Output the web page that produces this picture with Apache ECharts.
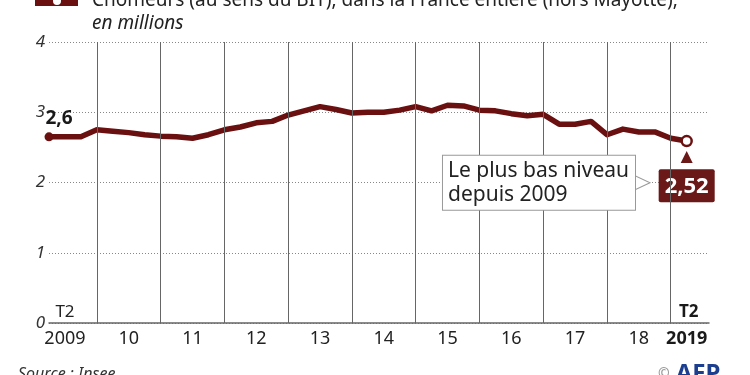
<!DOCTYPE html>
<html><head><meta charset="utf-8">
<script src="https://cdn.jsdelivr.net/npm/echarts@6/dist/echarts.min.js"></script>
<style>html,body{margin:0;padding:0;background:#fff}#c{width:750px;height:375px}</style>
</head><body><div id="c"></div>
<script>
// ---- data ----
const quarters = [];
for (let k = 0; k < 41; k++) {
  const q = (1 + k) % 4 + 1;
  const y = 2009 + Math.floor((1 + k) / 4);
  quarters.push(y + ' T' + q);
}
const unemployed = [2.65,2.65,2.65,2.75,2.73,2.71,2.68,2.66,2.65,2.63,2.68,2.75,2.79,2.85,2.87,2.96,3.02,3.08,3.04,2.99,3.00,3.00,3.03,3.08,3.02,3.10,3.09,3.03,3.02,2.98,2.95,2.97,2.83,2.83,2.87,2.68,2.76,2.72,2.72,2.63,2.59];
const yearTicks = ['2009','10','11','12','13','14','15','16','17','18','2019'];
const yearTickQuarters = ['2009 T3','2010 T3','2011 T3','2012 T3','2013 T3','2014 T3','2015 T3','2016 T3','2017 T3','2018 T3','2019 T2'];
const yearLines = ['2010 T1','2011 T1','2012 T1','2013 T1','2014 T1','2015 T1','2016 T1','2017 T1','2018 T1','2019 T1'];
const quarterMarks = ['T2','T2'];
const firstLabel = '2,6';
const lastLabel = '2,52';
const noteText = 'Le plus bas niveau\ndepuis 2009';
const seriesName = 'Chômeurs (au sens du BIT), dans la France entière (hors Mayotte),';
const unitText = 'en millions';
const sourceText = 'Source : Insee';

// ---- chart ----
const MAROON = '#6b1010';
const BOX = '#6b1818';
const FONT = '"Noto Sans", "Open Sans", sans-serif';
const last = unemployed.length - 1;

const tickMap = {};
yearTickQuarters.forEach((q, k) => { tickMap[quarters.indexOf(q)] = yearTicks[k]; });

const seriesData = unemployed.map((v, i) => {
  if (i === 0) return {
    value: [i, v], symbol: 'circle', symbolSize: 9,
    itemStyle: { color: MAROON },
    label: { show: true, formatter: firstLabel, position: 'top', distance: 4, offset: [10, 0],
      fontSize: 19, fontWeight: 'bold', color: '#1a1a1a', fontFamily: FONT }
  };
  if (i === last) return {
    value: [i, v], symbol: 'circle', symbolSize: 10,
    itemStyle: { color: '#fff', borderColor: MAROON, borderWidth: 2.5 },
    label: { show: true, formatter: lastLabel, position: 'bottom', distance: 22,
      backgroundColor: BOX, color: '#fff', fontWeight: 'bold', fontSize: 22, lineHeight: 24,
      padding: [5, 6, 4, 6], borderRadius: 2, fontFamily: FONT }
  };
  return [i, v];
});

const chart = echarts.init(document.getElementById('c'), null, { renderer: 'canvas' });
chart.setOption({
  animation: false,
  textStyle: { fontFamily: FONT },
  title: [
    { text: unitText, left: 92, top: 13, padding: 0,
      textStyle: { fontSize: 19, fontStyle: 'italic', fontWeight: 'normal', color: '#222', lineHeight: 22, fontFamily: FONT } },
    { text: sourceText, left: 18, top: 366, padding: 0,
      textStyle: { fontSize: 16, fontStyle: 'italic', fontWeight: 'normal', color: '#333', fontFamily: FONT } },
    { text: '{c|©}{a|AFP}', left: 658, top: 362, padding: 0,
      textStyle: { rich: {
        c: { fontSize: 14, color: '#999', padding: [0, 6, 0, 0], fontFamily: FONT },
        a: { fontSize: 24, fontWeight: 'bold', color: '#1c3e8f', fontFamily: FONT }
      } } }
  ],
  legend: {
    left: 35, top: -10, padding: 0, selectedMode: false,
    itemWidth: 43, itemHeight: 10,
    data: [{ name: seriesName, icon: 'path://M0,0H43V10H0Z M18,5a4,4 0 1,0 8,0a4,4 0 1,0 -8,0Z' }],
    itemStyle: { color: MAROON },
    textStyle: { fontSize: 19, color: '#222', lineHeight: 22, padding: [0, 0, 0, 9], fontFamily: FONT }
  },
  grid: { left: 49, top: 42, width: 660, height: 281 },
  xAxis: {
    type: 'value', min: 0, max: 41.4, interval: 1,
    axisLine: { show: true, lineStyle: { color: '#666', width: 1.5 } },
    axisTick: { show: false },
    splitLine: { show: false },
    axisLabel: {
      margin: 7, fontSize: 18, color: '#222', fontFamily: FONT,
      showMinLabel: true, showMaxLabel: true,
      formatter: (v) => {
        const t = tickMap[v];
        if (!t) return '';
        return v === last ? '{b|' + t + '}' : t;
      },
      rich: { b: { fontSize: 18, fontWeight: 'bold', color: '#1a1a1a', fontFamily: FONT } }
    }
  },
  yAxis: {
    type: 'value', min: 0, max: 4, interval: 1,
    axisLine: { show: false }, axisTick: { show: false },
    axisLabel: { margin: 4, fontSize: 17, fontStyle: 'italic', color: '#333', fontFamily: FONT },
    splitLine: { show: true, lineStyle: { color: '#888', type: [1, 2], width: 1 } }
  },
  series: [
    {
      name: 'yearLines', type: 'line', z: 1, silent: true,
      data: unemployed.map((v, i) => [i, v]), symbol: 'none',
      lineStyle: { opacity: 0 },
      markLine: {
        silent: true, symbol: ['none', 'none'], label: { show: false },
        lineStyle: { color: '#666', width: 1, type: 'solid' },
        emphasis: { disabled: true },
        data: yearLines.map(q => ({ xAxis: quarters.indexOf(q) }))
      }
    },
    {
      name: seriesName, type: 'line', z: 3, symbol: 'none',
      data: seriesData,
      lineStyle: { color: MAROON, width: 5.5, join: 'round', cap: 'round' },
      itemStyle: { color: MAROON },
      label: { show: false },
      markPoint: {
        silent: true,
        data: [
          { coord: [0, 0], symbol: 'circle', symbolSize: 1, itemStyle: { color: 'rgba(0,0,0,0)' },
            label: { show: true, formatter: quarterMarks[0], position: 'top', distance: 2, offset: [16, 0],
              fontSize: 17, color: '#222', fontFamily: FONT } },
          { coord: [last, 0], symbol: 'circle', symbolSize: 1, itemStyle: { color: 'rgba(0,0,0,0)' },
            label: { show: true, formatter: quarterMarks[1], position: 'top', distance: 2, offset: [2, 0],
              fontSize: 17, fontWeight: 'bold', color: '#1a1a1a', fontFamily: FONT } },
          { coord: [last, unemployed[last]], symbol: 'triangle', symbolSize: [12, 12], symbolOffset: [0, 16],
            itemStyle: { color: BOX }, label: { show: false } },
          { coord: [last, unemployed[last]], symbol: 'circle', symbolSize: 1, itemStyle: { color: 'rgba(0,0,0,0)' },
            label: { show: true, formatter: noteText, position: 'inside', align: 'left', verticalAlign: 'middle',
              offset: [-243.7, 41.7], fontSize: 21, lineHeight: 24, color: '#222',
              backgroundColor: '#fff', borderColor: '#999', borderWidth: 1, padding: [3, 6, 3, 5], fontFamily: FONT } },
          { coord: [last, unemployed[last]], symbol: 'triangle', symbolRotate: -90, symbolSize: [17, 18],
            symbolOffset: [-45.7, 41.7], itemStyle: { color: '#fff', borderColor: '#999', borderWidth: 1 },
            label: { show: false } }
        ]
      }
    }
  ]
});
</script>
</body></html>
